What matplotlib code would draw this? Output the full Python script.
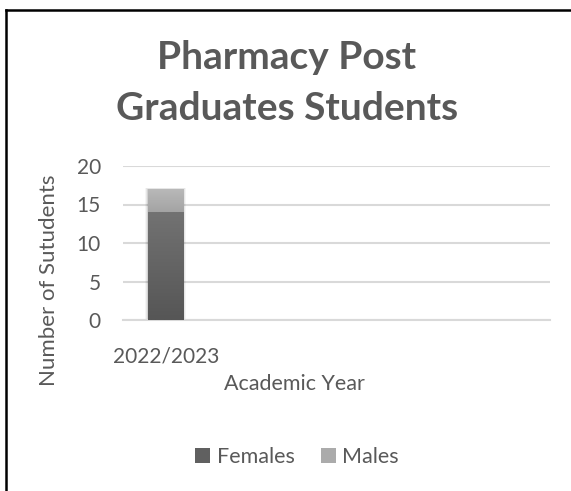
import matplotlib
matplotlib.use("Agg")
import matplotlib.pyplot as plt
import numpy as np
from matplotlib.colors import LinearSegmentedColormap
from matplotlib.lines import Line2D
from matplotlib.patches import Patch, Rectangle

plt.rcParams["font.family"] = ["Lato", "DejaVu Sans"]

years = ["2022/2023"]
females = [14]
males = [3]
series_names = ["Females", "Males"]
title_lines = ["Pharmacy Post", "Graduates Students"]

W, H = 571, 491
TEXT = "#595959"
GRID = "#d9d9d9"
N_SLOTS = 5
BAR_W = 0.41


def px(x, y):
  return x / W, 1 - y / H


def gradient_bar(ax, x, bottom, height, c_low, c_high):
  x0 = x - BAR_W / 2
  rect = Rectangle((x0, bottom), BAR_W, height, facecolor="none", edgecolor="none")
  ax.add_patch(rect)
  cmap = LinearSegmentedColormap.from_list("g", [c_low, c_high])
  grad = np.linspace(0, 1, 64).reshape(-1, 1)
  im = ax.imshow(grad, extent=[x0, x0 + BAR_W, bottom, bottom + height], origin="lower",
                 cmap=cmap, aspect="auto", zorder=3, interpolation="bilinear")
  im.set_clip_path(rect)


fig = plt.figure(figsize=(W / 100, H / 100), dpi=100)
ax = fig.add_axes([123 / W, 1 - 320 / H, (550 - 123) / W, (320 - 166) / H])

xs = np.arange(len(years))

# soft shadow hugging the stacked column
for x, f, m in zip(xs, females, males):
  for k, a in [(0.035, 0.04), (0.022, 0.06), (0.01, 0.09)]:
    ax.add_patch(Rectangle((x - BAR_W / 2 - k, -0.1), BAR_W + 2 * k, f + m + 0.1 + k * 4,
                           facecolor="#000000", alpha=a, edgecolor="none", zorder=2))

for x, f in zip(xs, females):
  gradient_bar(ax, x, 0, f, "#565656", "#727272")
for x, f, m in zip(xs, females, males):
  gradient_bar(ax, x, f, m, "#a3a3a3", "#bababa")

ax.set_xlim(-0.5, N_SLOTS - 0.5)
ax.set_ylim(0, 20)
ax.set_yticks([0, 5, 10, 15, 20])
ax.set_xticks(xs)
ax.set_xticklabels(years)
ax.yaxis.grid(True, color=GRID, lw=1.5)
ax.set_axisbelow(True)
for s in ["top", "right", "left"]:
  ax.spines[s].set_visible(False)
ax.spines["bottom"].set_color(GRID)
ax.spines["bottom"].set_linewidth(1.5)
ax.tick_params(axis="both", length=0, labelsize=15, labelcolor=TEXT)
ax.tick_params(axis="y", pad=16)
ax.tick_params(axis="x", pad=19)

# two-line chart title, each line placed on its own baseline
for line, base in zip(title_lines, [69, 120]):
  fig.text(*px(287, base), line, ha="center", va="baseline",
           fontsize=28, fontweight="bold", color=TEXT)
fig.text(*px(49, 280), "Number of Sutudents", rotation=90, ha="center", va="center",
         fontsize=16, color=TEXT)
fig.text(*px(294, 384), "Academic Year", ha="center", va="center", fontsize=15.5, color=TEXT)

handles = [Patch(facecolor="#606060", edgecolor="none"), Patch(facecolor="#ababab", edgecolor="none")]
fig.legend(handles, series_names, loc="center", bbox_to_anchor=px(297, 457), ncol=2,
           frameon=False, fontsize=15.5, labelcolor=TEXT, handlelength=0.7, handleheight=0.7,
           handletextpad=0.3, columnspacing=1.2)

# frame edge along the top and left
fig.add_artist(Line2D([6 / W, 1.0], [1 - 10 / H] * 2, transform=fig.transFigure, color="black", lw=1.8))
fig.add_artist(Line2D([6 / W] * 2, [0.0, 1 - 10 / H], transform=fig.transFigure, color="black", lw=1.8))

fig.savefig("out.png", dpi=100)
